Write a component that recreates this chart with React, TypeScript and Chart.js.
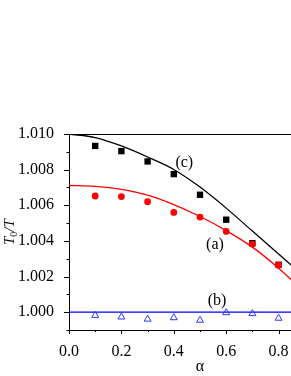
import React, { useEffect, useRef } from 'react';
import { Chart, registerables } from 'chart.js';

Chart.register(...registerables);

// Measured points
const ALPHA = [0.1, 0.2, 0.3, 0.4, 0.5, 0.6, 0.7, 0.8];
const SQUARES_C = [1.00933, 1.00904, 1.00846, 1.00775, 1.00659, 1.00519, 1.00387, 1.00266];
const CIRCLES_A = [1.00652, 1.00649, 1.0062, 1.0056, 1.00534, 1.00453, 1.00382, 1.00264];
const TRIANGLES_B = [0.99982, 0.99973, 0.99961, 0.99969, 0.99955, 0.99997, 0.99992, 0.99966];

// Theory curves
const CURVE_X = [0, 0.1, 0.2, 0.3, 0.4, 0.5, 0.6, 0.7, 0.8, 0.9];
const CURVE_C = [1.01, 1.0098, 1.00933, 1.00871, 1.00801, 1.00702, 1.00584, 1.00455, 1.00326, 1.00197];
const CURVE_A = [1.00711, 1.00706, 1.00689, 1.00657, 1.00604, 1.00537, 1.00458, 1.00365, 1.00247, 1.00112];
const LINE_B_X = [0, 1.0];
const LINE_B = [1.0, 1.0];

// Axes
const X_TICKS = [0, 0.2, 0.4, 0.6, 0.8, 1.0];
const X_MINOR = [0.1, 0.3, 0.5, 0.7, 0.9];
const Y_TICKS = [1.0, 1.002, 1.004, 1.006, 1.008, 1.01];
const Y_MINOR = [0.999, 1.001, 1.003, 1.005, 1.007, 1.009];

// Curve labels
const LABELS = ['(c)', '(a)', '(b)'];
const LABEL_X = [0.44, 0.557, 0.565];
const LABEL_Y = [1.00837, 1.00378, 1.00065];

const SERIF = '"Liberation Serif", "Times New Roman", serif';

const decor = {
  id: 'decor',
  afterDraw(chart: any) {
    const { ctx, chartArea: a, scales } = chart;
    const x = scales.x;
    const y = scales.y;
    ctx.save();
    ctx.strokeStyle = '#000';
    ctx.lineWidth = 1;
    ctx.beginPath();
    ctx.moveTo(a.left, Math.round(a.top) + 0.5);
    ctx.lineTo(a.right, Math.round(a.top) + 0.5);
    ctx.moveTo(Math.round(a.right) - 0.5, a.top);
    ctx.lineTo(Math.round(a.right) - 0.5, a.bottom);
    const yTick = (v: number, len: number) => {
      const py = Math.round(y.getPixelForValue(v)) + 0.5;
      ctx.moveTo(a.left - len, py);
      ctx.lineTo(a.left, py);
    };
    Y_TICKS.forEach((v) => yTick(v, 5));
    Y_MINOR.forEach((v) => yTick(v, 2.5));
    const xTick = (v: number, len: number) => {
      const px = Math.round(x.getPixelForValue(v)) + 0.5;
      ctx.moveTo(px, a.bottom);
      ctx.lineTo(px, a.bottom + len);
    };
    X_TICKS.forEach((v) => xTick(v, 4));
    X_MINOR.forEach((v) => xTick(v, 2));
    ctx.stroke();

    ctx.fillStyle = '#000';
    ctx.font = `16px ${SERIF}`;
    ctx.textAlign = 'center';
    ctx.textBaseline = 'middle';
    LABELS.forEach((t, i) => {
      ctx.fillText(t, x.getPixelForValue(LABEL_X[i]), y.getPixelForValue(LABEL_Y[i]));
    });

    ctx.translate(14, 245);
    ctx.rotate(-Math.PI / 2);
    ctx.textAlign = 'left';
    ctx.textBaseline = 'alphabetic';
    ctx.font = `italic 15px ${SERIF}`;
    ctx.fillText('T', 0, 0);
    let w = ctx.measureText('T').width;
    ctx.font = `10px ${SERIF}`;
    ctx.fillText('0', w, 3);
    w += ctx.measureText('0').width;
    ctx.font = `italic 15px ${SERIF}`;
    ctx.fillText('/T', w, 0);
    ctx.restore();
  },
};

export default function App() {
  const ref = useRef<HTMLCanvasElement | null>(null);
  useEffect(() => {
    if (!ref.current) return;
    const chart = new Chart(ref.current, {
      type: 'line',
      data: {
        datasets: [
          {
            label: 'c theory',
            data: CURVE_X.map((v, i) => ({ x: v, y: CURVE_C[i] })),
            borderColor: '#000',
            borderWidth: 1.3,
            pointRadius: 0,
            cubicInterpolationMode: 'monotone',
            order: 6,
          },
          {
            label: 'a theory',
            data: CURVE_X.map((v, i) => ({ x: v, y: CURVE_A[i] })),
            borderColor: '#ff0000',
            borderWidth: 1.3,
            pointRadius: 0,
            cubicInterpolationMode: 'monotone',
            order: 5,
          },
          {
            label: 'b theory',
            data: LINE_B_X.map((v, i) => ({ x: v, y: LINE_B[i] })),
            borderColor: '#0000ff',
            borderWidth: 1.3,
            pointRadius: 0,
            order: 4,
          },
          {
            label: 'c',
            data: ALPHA.map((v, i) => ({ x: v, y: SQUARES_C[i] })),
            showLine: false,
            pointStyle: 'rect',
            pointRadius: 4.5,
            pointBackgroundColor: '#000',
            pointBorderWidth: 0,
            order: 3,
          },
          {
            label: 'a',
            data: ALPHA.map((v, i) => ({ x: v, y: CIRCLES_A[i] })),
            showLine: false,
            pointStyle: 'circle',
            pointRadius: 3.4,
            pointBackgroundColor: '#ff0000',
            pointBorderWidth: 0,
            order: 2,
          },
          {
            label: 'b',
            data: ALPHA.map((v, i) => ({ x: v, y: TRIANGLES_B[i] })),
            showLine: false,
            pointStyle: 'triangle',
            pointRadius: 4,
            pointBackgroundColor: 'rgba(255,255,255,0)',
            pointBorderColor: '#3333ff',
            pointBorderWidth: 1,
            order: 1,
          },
        ],
      },
      options: {
        responsive: false,
        animation: false,
        devicePixelRatio: 1,
        layout: { padding: { top: 134, right: 9, left: 0, bottom: 0 } },
        plugins: { legend: { display: false }, tooltip: { enabled: false } },
        scales: {
          x: {
            type: 'linear',
            min: 0,
            max: 1.0,
            grid: { display: false },
            border: { display: true, color: '#000', width: 1 },
            ticks: {
              autoSkip: false,
              maxRotation: 0,
              padding: 4,
              color: '#000',
              font: { family: SERIF, size: 16 },
              callback: (v: any) => Number(v).toFixed(1),
            },
            afterBuildTicks: (s: any) => {
              s.ticks = X_TICKS.map((v) => ({ value: v }));
            },
            afterFit: (s: any) => {
              s.height = 46;
            },
            title: {
              display: true,
              text: 'α',
              color: '#000',
              font: { family: SERIF, size: 16 },
              padding: { top: 0, bottom: 0 },
            },
          },
          y: {
            type: 'linear',
            min: 0.999,
            max: 1.01,
            grid: { display: false },
            border: { display: true, color: '#000', width: 1 },
            ticks: {
              padding: 7,
              color: '#000',
              font: { family: SERIF, size: 16 },
              callback: (v: any) => Number(v).toFixed(3),
            },
            afterBuildTicks: (s: any) => {
              s.ticks = Y_TICKS.map((v) => ({ value: v }));
            },
            afterFit: (s: any) => {
              s.width = 69;
            },
          },
        },
      } as any,
      plugins: [decor],
    });
    return () => chart.destroy();
  }, []);

  return (
    <div
      style={{
        position: 'fixed',
        left: 0,
        top: 0,
        width: 291,
        height: 376,
        overflow: 'hidden',
        background: '#fff',
      }}
    >
      <canvas ref={ref} width={345} height={376} style={{ display: 'block' }} />
    </div>
  );
}
